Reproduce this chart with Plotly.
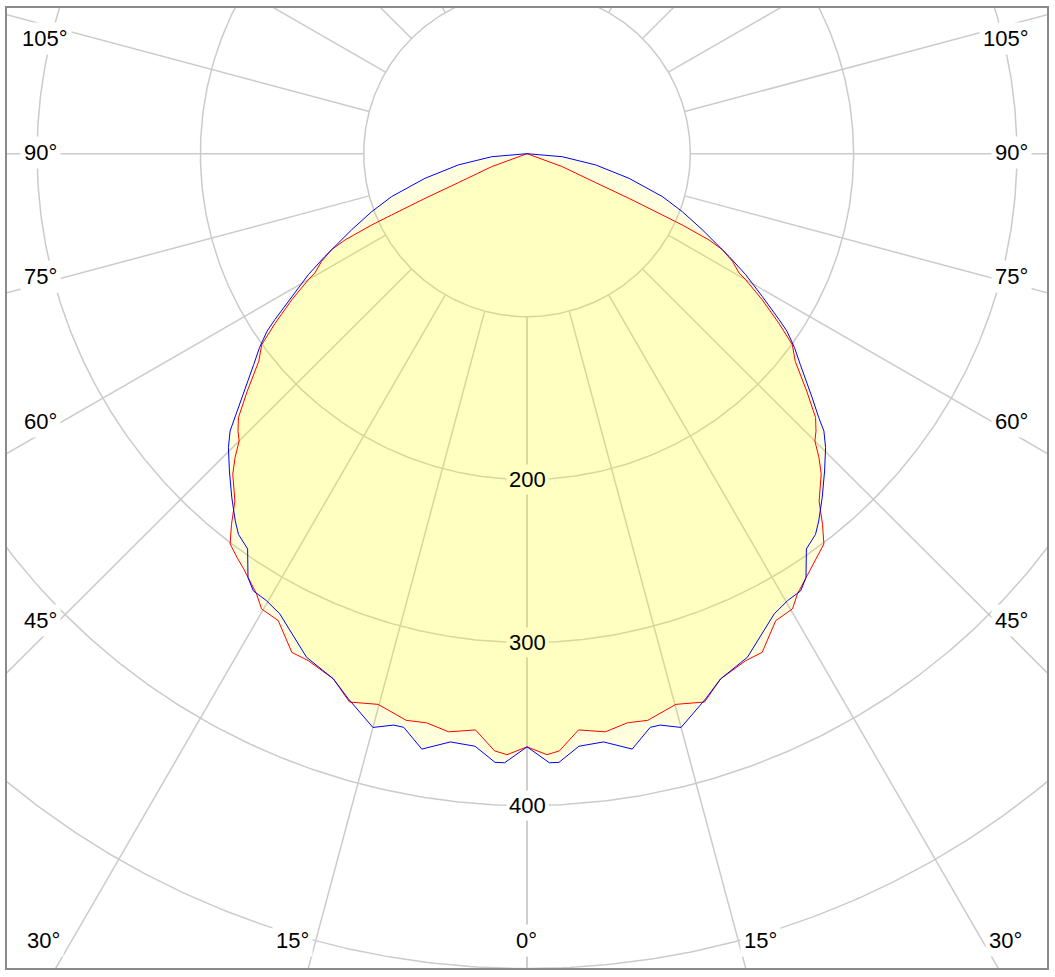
import numpy as np
import plotly.graph_objects as go

# ---------------- data ----------------
# red curve (C0/C180 plane): gamma angle from nadir (deg) and intensity
gamma_red = [0, 1.9, 3.1, 5.1, 7.7, 10.0, 12.0, 15.1, 17.9, 20.2, 23.3, 25.2,
             28.0, 30.2, 31.5, 34.2, 35.6, 37.2, 38.5, 40.0, 42.5, 43.8, 45.0,
             46.1, 47.5, 49.6, 52.2, 54.2, 56.0, 58.1, 60.0, 60.6, 62.3, 63.8,
             64.6, 65.3, 65.6, 66.3, 67.1, 69.8, 90]
i_red = [364, 369, 367, 355, 358, 354.6, 355.5, 350, 353.6, 343.4, 338.7, 338.2,
         324.5, 323.2, 316.9, 308.4, 304.9, 300.7, 290.7, 278.3, 266.7, 258.3, 249.3,
         245.6, 239.7, 225.0, 207.9, 200.3, 186.0, 169.7, 154.6, 149.1, 142.1, 133.3,
         123.3, 104.6, 91.0, 68.2, 45.7, 23.0, 0]

# blue curve (C90/C270 plane)
gamma_blue = [0, 2.1, 3.0, 5.0, 7.4, 10.0, 12.1, 13.1, 15.0, 18.1, 20.2, 23.6,
              28.2, 30.2, 32.0, 33.3, 35.2, 37.1, 38.4, 40.6, 43.1, 45.4, 46.9,
              47.8, 49.4, 52.3, 54.0, 55.6, 56.6, 58.7, 61.0, 63.0, 66.5, 69.5,
              72.4, 76.4, 80.7, 85.1, 90]
i_blue = [364, 374, 374, 365, 364, 371, 360, 360, 364.5, 352, 343.4, 337.2,
          320.4, 317.3, 316.3, 311.2, 296.8, 292.9, 287.6, 277.8, 266.7, 256.8, 249.0,
          241.2, 230.0, 211.5, 202.5, 193.0, 184.9, 168.6, 153.1, 138.9, 117.1, 101.5,
          86.9, 64.3, 42.6, 21.7, 0]

grid_radii = [100, 200, 300, 400, 500]
grid_angles = list(range(0, 181, 15))
radial_tick_values = [200, 300, 400]
radial_tick_labels = ["200", "300", "400"]

# angle labels and their pixel centres in the 1055x977 page
angle_labels = ["105°", "90°", "75°", "60°", "45°", "30°",
                "105°", "90°", "75°", "60°", "45°", "30°",
                "15°", "0°", "15°"]
angle_label_px = [(45, 37), (40, 151), (40, 275), (40, 420), (40, 620), (43, 940),
                  (1006, 37), (1011, 151), (1011, 275), (1011, 420), (1011, 620), (1005, 940),
                  (292, 940), (526, 940), (760, 940)]

# ---------------- geometry ----------------
W, H = 1055, 977
L, R, T, B = 7, 8, 6, 9
CX, CY = 527, 152          # pixel position of the pole
SCALE = 1.633              # pixels per intensity unit
pw, ph = W - L - R, H - T - B
x_rng = [-(CX - L) / SCALE, (W - R - CX) / SCALE]
y_rng = [-(H - B - CY) / SCALE, (CY - T) / SCALE]

ALPHA = 0.13
FILL = f"rgba(255,255,0,{ALPHA})"
b1 = round(255 * (1 - ALPHA) ** 2)
DOUBLE_FILL = f"rgb(255,255,{b1})"
GRID = "#cbcbcb"


def mirror(g, v):
    g = list(g)
    v = list(v)
    ang = [-a for a in g[::-1]] + g[1:]
    val = v[::-1] + v[1:]
    return np.array(ang, float), np.array(val, float)


def to_xy(ang_deg, r):
    t = np.radians(ang_deg)
    return r * np.sin(t), -r * np.cos(t)


fig = go.Figure()

# circles
cx, cy = [], []
th = np.linspace(0, 360, 721)
for rr in grid_radii:
    x, y = to_xy(th, rr)
    cx += list(x) + [None]
    cy += list(y) + [None]
fig.add_trace(go.Scatter(x=cx, y=cy, mode="lines", line=dict(color=GRID, width=1.5),
                         hoverinfo="skip", showlegend=False))

# radial spokes (from the inner circle outwards)
sx, sy = [], []
for a in grid_angles:
    for sgn in (-1, 1):
        x, y = to_xy(np.array([sgn * a, sgn * a]), np.array([grid_radii[0], 800]))
        sx += list(x) + [None]
        sy += list(y) + [None]
fig.add_trace(go.Scatter(x=sx, y=sy, mode="lines", line=dict(color=GRID, width=1.5),
                         hoverinfo="skip", showlegend=False))

# curves
curves = [(gamma_red, i_red, "#ff0000"), (gamma_blue, i_blue, "#0000ff")]
for g, v, col in curves:
    a, r = mirror(g, v)
    x, y = to_xy(a, r)
    fig.add_trace(go.Scatter(x=x, y=y, mode="lines", fill="toself", fillcolor=FILL,
                             line=dict(width=0), hoverinfo="skip", showlegend=False))
for g, v, col in curves:
    a, r = mirror(g, v)
    x, y = to_xy(a, r)
    fig.add_trace(go.Scatter(x=x, y=y, mode="lines", line=dict(color=col, width=1),
                             hoverinfo="skip", showlegend=False))

FONT = dict(family="Arial, Liberation Sans, sans-serif", size=22, color="black")
annotations = []
for val, txt in zip(radial_tick_values, radial_tick_labels):
    inside = val <= 300
    annotations.append(dict(x=0, y=-val, xref="x", yref="y", text=txt, showarrow=False,
                            font=FONT, bgcolor=DOUBLE_FILL if inside else "white",
                            borderpad=2, xanchor="center", yanchor="middle"))
for txt, (px, py) in zip(angle_labels, angle_label_px):
    annotations.append(dict(x=(px - L) / pw, y=(H - B - py) / ph, xref="paper", yref="paper",
                            text=txt, showarrow=False, font=FONT, bgcolor="white",
                            borderpad=3, xanchor="center", yanchor="middle"))

axis_common = dict(showgrid=False, zeroline=False, showticklabels=False, ticks="",
                   showline=True, mirror=True, linecolor="#8a8a8a", linewidth=1.5,
                   fixedrange=True)
fig.update_layout(
    width=W, height=H,
    margin=dict(l=L, r=R, t=T, b=B, pad=0),
    paper_bgcolor="white", plot_bgcolor="white",
    xaxis=dict(range=x_rng, **axis_common),
    yaxis=dict(range=y_rng, **axis_common),
    annotations=annotations,
    showlegend=False,
)

fig.write_html("out.html", config={"displayModeBar": False},
               post_script="document.body.style.margin='0';document.body.style.overflow='hidden';")
